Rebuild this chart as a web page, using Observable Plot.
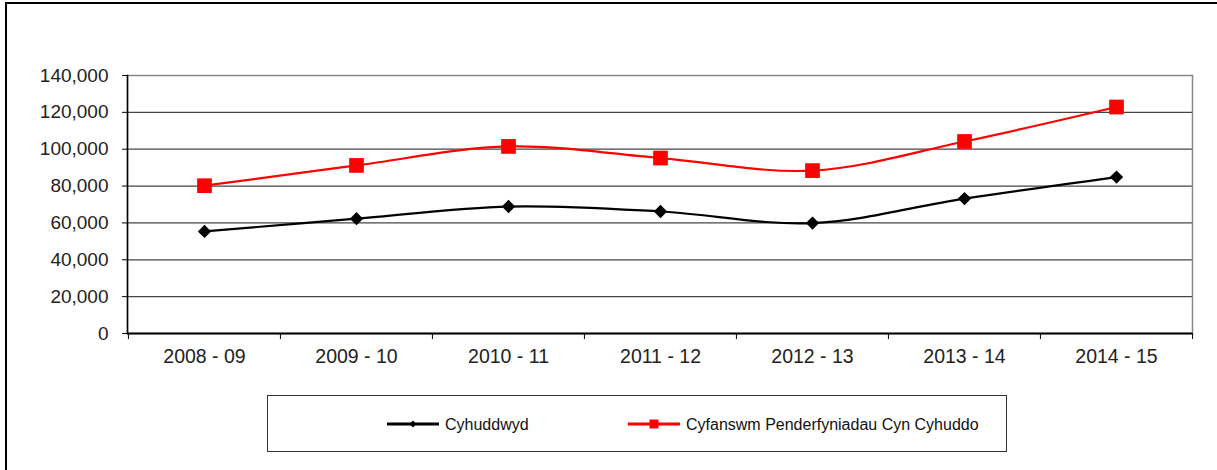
<!DOCTYPE html>
<html>
<head>
<meta charset="utf-8">
<script src="https://cdn.jsdelivr.net/npm/d3@7"></script>
<script src="https://cdn.jsdelivr.net/npm/@observablehq/plot@0.6"></script>
<style>
  html, body { margin: 0; padding: 0; background: #fff; }
  #page { position: relative; width: 1217px; height: 470px; overflow: hidden; font-family: "Liberation Sans", Arial, sans-serif; }
  #frameTop { position: absolute; left: 5px; top: 2px; right: 0; height: 0; border-top: 2px solid #000; }
  #frameLeft { position: absolute; left: 5px; top: 2px; bottom: 0; width: 0; border-left: 2px solid #000; }
  #chart { position: absolute; left: 0; top: 0; }
  #legend { position: absolute; left: 267px; top: 395px; width: 740px; height: 57px; border: 1.5px solid #333; box-sizing: border-box; }
  .item { position: absolute; top: 20px; display: flex; align-items: center; font-size: 16px; color: #111; }
  .item svg { margin-right: 6px; }
</style>
</head>
<body>
<div id="page">
  <div id="frameTop"></div>
  <div id="frameLeft"></div>
  <div id="chart"></div>
  <div id="legend"></div>
</div>
<script>
// ---- data ----
const years = ["2008 - 09", "2009 - 10", "2010 - 11", "2011 - 12", "2012 - 13", "2013 - 14", "2014 - 15"];
const cyhuddwyd = [55400, 62300, 68900, 66200, 59900, 73200, 84900];
const cyfanswm = [80200, 91200, 101500, 95200, 88400, 104200, 122900];
const yTicks = [0, 20000, 40000, 60000, 80000, 100000, 120000, 140000];
const seriesNames = ["Cyhuddwyd", "Cyfanswm Penderfyniadau Cyn Cyhuddo"];
const seriesColors = ["#000000", "#ff0000"];
const seriesSymbols = ["diamond2", "square"];

// ---- table built from arrays ----
const rows = [];
years.forEach((y, i) => rows.push({year: y, value: cyhuddwyd[i], series: seriesNames[0]}));
years.forEach((y, i) => rows.push({year: y, value: cyfanswm[i], series: seriesNames[1]}));

// ---- layout ----
const W = 1217, H = 370, mL = 127, mR = 25, mT = 75, mB = 37;
const step = (W - mL - mR) / years.length;

const chart = Plot.plot({
  width: W, height: H,
  marginLeft: mL, marginRight: mR, marginTop: mT, marginBottom: mB,
  style: {fontFamily: "'Liberation Sans', Arial, sans-serif", fontSize: "19px", color: "#222", background: "transparent", overflow: "visible"},
  x: {type: "point", domain: years, padding: 0.5, axis: null, label: null},
  y: {domain: [0, 140000], axis: null, label: null},
  color: {domain: seriesNames, range: seriesColors},
  symbol: {domain: seriesNames, range: seriesSymbols},
  marks: [
    Plot.ruleY(yTicks.slice(1, -1), {stroke: "#444", strokeWidth: 1.2}),
    Plot.frame({stroke: "#888", strokeWidth: 1.5}),
    Plot.frame({anchor: "left", stroke: "#000", strokeWidth: 1.5}),
    Plot.ruleY([0], {stroke: "#000", strokeWidth: 2}),
    Plot.axisY({ticks: yTicks, tickFormat: d3.format(","), tickSize: 5, tickPadding: 14, stroke: "#000", fill: "#222", fontSize: 19, label: null}),
    Plot.axisX({ticks: years, tickSize: 6, text: null, dx: -step / 2, stroke: "#000", label: null}),
    Plot.axisX({ticks: years.slice(-1), tickSize: 6, text: null, dx: step / 2, stroke: "#000", label: null}),
    Plot.axisX({ticks: years, tickSize: 0, tickPadding: 16, fill: "#222", fontSize: 19.5, label: null}),
    Plot.line(rows, {x: "year", y: "value", z: "series", stroke: "series", curve: "catmull-rom", strokeWidth: 2.2}),
    Plot.dot(rows.filter(d => d.series === seriesNames[0]), {x: "year", y: "value", symbol: "series", fill: "series", r: 6}),
    Plot.dot(rows.filter(d => d.series === seriesNames[1]), {x: "year", y: "value", symbol: "series", fill: "series", r: 8.3})
  ]
});
document.getElementById("chart").appendChild(chart);

// ---- legend ----
const legend = document.getElementById("legend");
const itemLeft = [119, 360];
seriesNames.forEach((name, i) => {
  const item = document.createElement("div");
  item.className = "item";
  item.style.left = itemLeft[i] + "px";
  const svg = d3.create("svg").attr("width", 52).attr("height", 16);
  svg.append("line").attr("x1", 0).attr("x2", 52).attr("y1", 7).attr("y2", 7)
    .attr("stroke", seriesColors[i]).attr("stroke-width", 3);
  const sym = i === 0 ? d3.symbolDiamond2 : d3.symbolSquare;
  const size = i === 0 ? 30 : 80;
  svg.append("path").attr("d", d3.symbol(sym, size)()).attr("transform", "translate(26,7)").attr("fill", seriesColors[i]);
  item.appendChild(svg.node());
  const t = document.createElement("span");
  t.textContent = name;
  item.appendChild(t);
  legend.appendChild(item);
});
</script>
</body>
</html>
